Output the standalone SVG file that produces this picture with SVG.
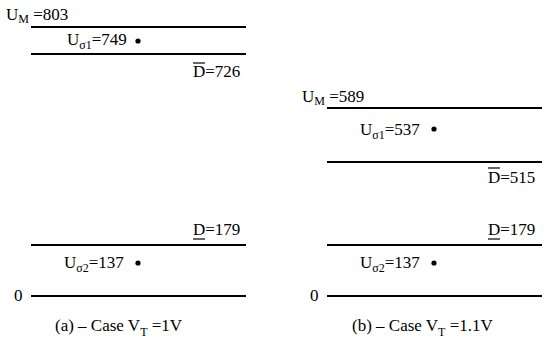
<svg xmlns="http://www.w3.org/2000/svg" width="550" height="352" viewBox="0 0 550 352">
<style>
text{font-family:"Liberation Serif","Times New Roman",serif;font-size:17px;fill:#000}
.sub{font-size:12px}
.lvl{stroke:#000;stroke-width:2;fill:none}
.bar{stroke:#000;stroke-width:1.2;fill:none}
</style>
<rect width="550" height="352" fill="#fff"/>
<g id="panel-a">
  <g id="a-levels">
    <line class="lvl" x1="31" y1="27" x2="246" y2="27"/>
    <line class="lvl" x1="31" y1="54" x2="246" y2="54"/>
    <line class="lvl" x1="31" y1="245" x2="246" y2="245"/>
    <line class="lvl" x1="31" y1="296" x2="246" y2="296"/>
  </g>
  <g id="a-UM"><text x="6" y="20">U<tspan class="sub" dy="3">M</tspan><tspan dy="-3"> =803</tspan></text></g>
  <g id="a-Us1"><text x="67" y="45">U<tspan class="sub" dy="4">σ1</tspan><tspan dy="-4">=749</tspan></text><circle cx="138" cy="41" r="2.6"/></g>
  <g id="a-Dbar"><text x="193" y="77">D=726</text><line class="bar" x1="193" y1="63" x2="205" y2="63"/></g>
  <g id="a-Dund"><text x="193" y="235">D=179</text><line class="bar" x1="193" y1="239" x2="205" y2="239"/></g>
  <g id="a-Us2"><text x="64" y="268">U<tspan class="sub" dy="4">σ2</tspan><tspan dy="-4">=137</tspan></text><circle cx="138" cy="263" r="2.6"/></g>
  <g id="a-zero"><text x="14" y="301">0</text></g>
  <g id="a-caption"><text x="55" y="331">(a) – Case V<tspan class="sub" dy="5" font-size="14">T</tspan><tspan dy="-5"> =1V</tspan></text></g>
</g>
<g id="panel-b">
  <g id="b-levels">
    <line class="lvl" x1="327" y1="108" x2="542" y2="108"/>
    <line class="lvl" x1="327" y1="162" x2="542" y2="162"/>
    <line class="lvl" x1="327" y1="245" x2="542" y2="245"/>
    <line class="lvl" x1="327" y1="296" x2="542" y2="296"/>
  </g>
  <g id="b-UM"><text x="302" y="102">U<tspan class="sub" dy="3">M</tspan><tspan dy="-3"> =589</tspan></text></g>
  <g id="b-Us1"><text x="360" y="135">U<tspan class="sub" dy="4">σ1</tspan><tspan dy="-4">=537</tspan></text><circle cx="434" cy="129" r="2.6"/></g>
  <g id="b-Dbar"><text x="488" y="183">D=515</text><line class="bar" x1="488" y1="168" x2="500" y2="168"/></g>
  <g id="b-Dund"><text x="488" y="235">D=179</text><line class="bar" x1="488" y1="239" x2="500" y2="239"/></g>
  <g id="b-Us2"><text x="360" y="268">U<tspan class="sub" dy="4">σ2</tspan><tspan dy="-4">=137</tspan></text><circle cx="434" cy="263" r="2.6"/></g>
  <g id="b-zero"><text x="310" y="301">0</text></g>
  <g id="b-caption"><text x="352" y="331">(b) – Case V<tspan class="sub" dy="5" font-size="14">T</tspan><tspan dy="-5"> =1.1V</tspan></text></g>
</g>
</svg>
